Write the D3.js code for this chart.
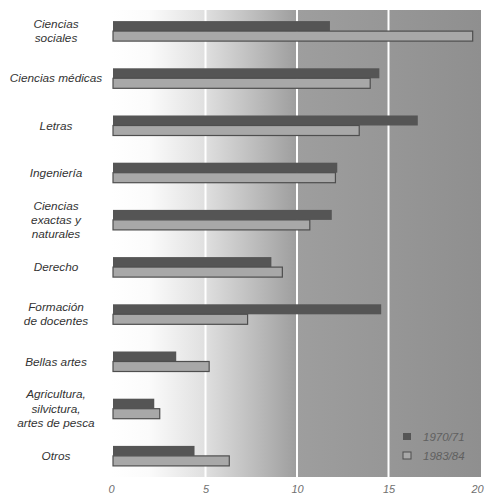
<!DOCTYPE html>
<html>
<head>
<meta charset="utf-8">
<script src="https://cdn.jsdelivr.net/npm/d3@7"></script>
<style>
  html, body { margin: 0; padding: 0; background: #fff; }
  svg { display: block; }
  text { font-family: "Liberation Sans", Arial, sans-serif; font-style: italic; }
</style>
</head>
<body>
<svg id="chart" width="485" height="501"></svg>
<script>
// Students by field of study (percent of total), two school years
const categories = [
  ["Ciencias", "sociales"],
  ["Ciencias médicas"],
  ["Letras"],
  ["Ingeniería"],
  ["Ciencias", "exactas y", "naturales"],
  ["Derecho"],
  ["Formación", "de docentes"],
  ["Bellas artes"],
  ["Agricultura,", "silvictura,", "artes de pesca"],
  ["Otros"]
];
const series = ["1970/71", "1983/84"];
const values1970 = [11.8, 14.5, 16.6, 12.2, 11.9, 8.6, 14.6, 3.4, 2.2, 4.4];
const values1983 = [19.6, 14.0, 13.4, 12.1, 10.7, 9.2, 7.3, 5.2, 2.5, 6.3];
const tickValues = [0, 5, 10, 15, 20];
const tickLabels = ["0", "5", "10", "15", "20"];

const svg = d3.select("#chart");
const keys = categories.map((c, i) => i);

const x = d3.scaleLinear().domain([0, 20]).range([114, 480]);
const y = d3.scaleBand().domain(keys).range([7.5, 479.5])
  .paddingInner(0.576).paddingOuter(0.288);
const ySub = d3.scaleBand().domain(series).range([0, y.bandwidth()]);

// shaded backdrop: white on the left fading to grey on the right
const defs = svg.append("defs");
const grad = defs.append("linearGradient").attr("id", "bg")
  .attr("x1", "0%").attr("x2", "100%").attr("y1", "0%").attr("y2", "0%");
grad.append("stop").attr("offset", "0%").attr("stop-color", "#ffffff");
grad.append("stop").attr("offset", "10%").attr("stop-color", "#fbfbfb");
grad.append("stop").attr("offset", "25%").attr("stop-color", "#e0e0e0");
grad.append("stop").attr("offset", "40%").attr("stop-color", "#b9b9b9");
grad.append("stop").attr("offset", "50%").attr("stop-color", "#9e9e9e");
grad.append("stop").attr("offset", "100%").attr("stop-color", "#8f8f8f");

const panelTop = 10, panelBottom = 477;
svg.append("rect")
  .attr("x", x(0) - 2).attr("y", panelTop)
  .attr("width", x(20) + 1 - (x(0) - 2)).attr("height", panelBottom - panelTop)
  .attr("fill", "url(#bg)");

// white vertical grid lines
svg.append("g").selectAll("line")
  .data([5, 10, 15]).join("line")
  .attr("x1", d => x(d)).attr("x2", d => x(d))
  .attr("y1", panelTop).attr("y2", panelBottom)
  .attr("stroke", "#ffffff").attr("stroke-width", 2);

// bars
const colors = { "1970/71": "#555555", "1983/84": "#a8a8a8" };
const rows = keys.flatMap(i => [
  { i, s: series[0], v: values1970[i] },
  { i, s: series[1], v: values1983[i] }
]);
svg.append("g").selectAll("rect")
  .data(rows).join("rect")
  .attr("x", x(0) - 1)
  .attr("y", d => y(d.i) + ySub(d.s))
  .attr("width", d => x(d.v) - x(0) + 1)
  .attr("height", ySub.bandwidth())
  .attr("fill", d => colors[d.s])
  .attr("stroke", d => d.s === series[1] ? "#4e4e4e" : "none")
  .attr("stroke-width", 1.2);

// category labels
const lineH = 14.3;
const lab = svg.append("g").selectAll("text")
  .data(keys).join("text")
  .attr("x", 56)
  .attr("text-anchor", "middle")
  .attr("font-size", 11.8)
  .attr("fill", "#333333");
lab.each(function(i) {
  const lines = categories[i];
  const cy = y(i) + y.bandwidth() / 2;
  const t = d3.select(this);
  lines.forEach((ln, k) => {
    t.append("tspan")
      .attr("x", 56)
      .attr("y", cy + (k - (lines.length - 1) / 2) * lineH + 4)
      .text(ln);
  });
});

// x axis tick labels
const axis = d3.axisBottom(x).tickValues(tickValues)
  .tickFormat((d, k) => tickLabels[k]).tickSize(0).tickPadding(0);
const ax = svg.append("g").attr("transform", "translate(0,485)").call(axis);
ax.select(".domain").remove();
ax.selectAll("text")
  .attr("font-family", "\"Liberation Sans\", Arial, sans-serif")
  .attr("font-style", "italic")
  .attr("font-size", 11)
  .attr("fill", "#707070")
  .attr("dx", d => d === 20 ? -3 : (d === 0 ? -3 : 0));

// legend
const leg = svg.append("g").selectAll("g")
  .data(series).join("g")
  .attr("transform", (d, k) => `translate(403,${433 + k * 19})`);
leg.append("rect")
  .attr("width", 8).attr("height", 7)
  .attr("fill", d => colors[d])
  .attr("stroke", d => d === series[1] ? "#4e4e4e" : "none");
leg.append("text")
  .attr("x", 20).attr("y", 8)
  .attr("font-size", 11.5)
  .attr("fill", "#606060")
  .text(d => d);
</script>
</body>
</html>
